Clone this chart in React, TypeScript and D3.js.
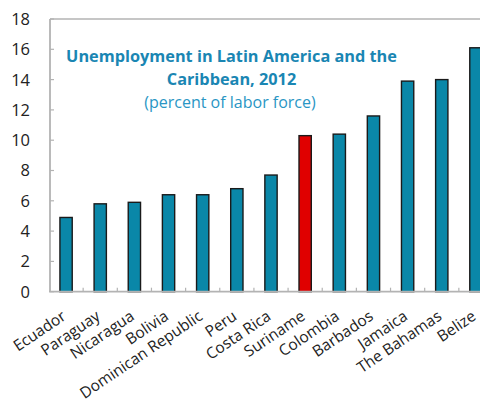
import React from "react";
import * as d3 from "d3";

const categories = [
  "Ecuador", "Paraguay", "Nicaragua", "Bolivia", "Dominican Republic", "Peru",
  "Costa Rica", "Suriname", "Colombia", "Barbados", "Jamaica", "The Bahamas", "Belize",
];
const values = [4.9, 5.8, 5.9, 6.4, 6.4, 6.8, 7.7, 10.3, 10.4, 11.6, 13.9, 14.0, 16.1];
const highlight = ["Suriname"];
const yTicks = [0, 2, 4, 6, 8, 10, 12, 14, 16, 18];
const titleLines = ["Unemployment in Latin America and the", "Caribbean, 2012"];
const subtitle = "(percent of labor force)";

const W = 480;
const H = 406;
const FONT = "'Open Sans', 'Noto Sans', sans-serif";

export default function App() {
  const x = d3.scaleBand<string>().domain(categories).range([49, 493]).paddingInner(0.64).paddingOuter(0.32);
  const y = d3.scaleLinear().domain([0, 18]).range([291.7, 19]);
  const step = x.step();
  const axisColor = "#b3b3b3";

  return (
    <svg width={W} height={H} style={{ position: "absolute", left: 0, top: 0, background: "#fff" }} fontFamily={FONT}>
      {/* top border */}
      <line x1={50} x2={W} y1={y(18)} y2={y(18)} stroke={axisColor} strokeWidth={1.5} />
      {/* bars */}
      {categories.map((c, i) => (
        <rect
          key={c}
          x={x(c)}
          y={y(values[i])}
          width={x.bandwidth()}
          height={y(0) - y(values[i])}
          fill={highlight.includes(c) ? "#e00000" : "#0a87a8"}
          stroke="#1a1a1a"
          strokeWidth={1.4}
        />
      ))}
      {/* y axis */}
      <line x1={50} x2={50} y1={y(18)} y2={y(0)} stroke={axisColor} strokeWidth={1.8} />
      {yTicks.map((t) => (
        <g key={t}>
          <line x1={50} x2={54} y1={y(t)} y2={y(t)} stroke={axisColor} strokeWidth={1.2} />
          <text x={30} y={y(t)} dy="0.36em" textAnchor="end" fontSize={16.5} fill="#222">
            {t}
          </text>
        </g>
      ))}
      {/* x axis */}
      <line x1={49} x2={W} y1={y(0)} y2={y(0)} stroke={axisColor} strokeWidth={1.8} />
      {categories.slice(0, -1).map((c) => {
        const tx = (x(c) as number) + x.bandwidth() / 2 + step / 2;
        return <line key={c} x1={tx} x2={tx} y1={y(0)} y2={y(0) - 4} stroke={axisColor} strokeWidth={1.2} />;
      })}
      {categories.map((c) => {
        const cx = (x(c) as number) + x.bandwidth() / 2;
        return (
          <text
            key={c}
            transform={`translate(${cx + 1},${y(0) + 27}) rotate(-34)`}
            textAnchor="end"
            fontSize={15.5}
            fill="#222"
          >
            {c}
          </text>
        );
      })}
      {/* title */}
      {titleLines.map((l, i) => (
        <text key={l} x={231.5} y={61.7 + i * 23.3} textAnchor="middle" fontSize={16.3} fontWeight="bold" fill="#1a86b3">
          {l}
        </text>
      ))}
      <text x={230} y={108} textAnchor="middle" fontSize={16} fill="#2a96c4">
        {subtitle}
      </text>
    </svg>
  );
}
